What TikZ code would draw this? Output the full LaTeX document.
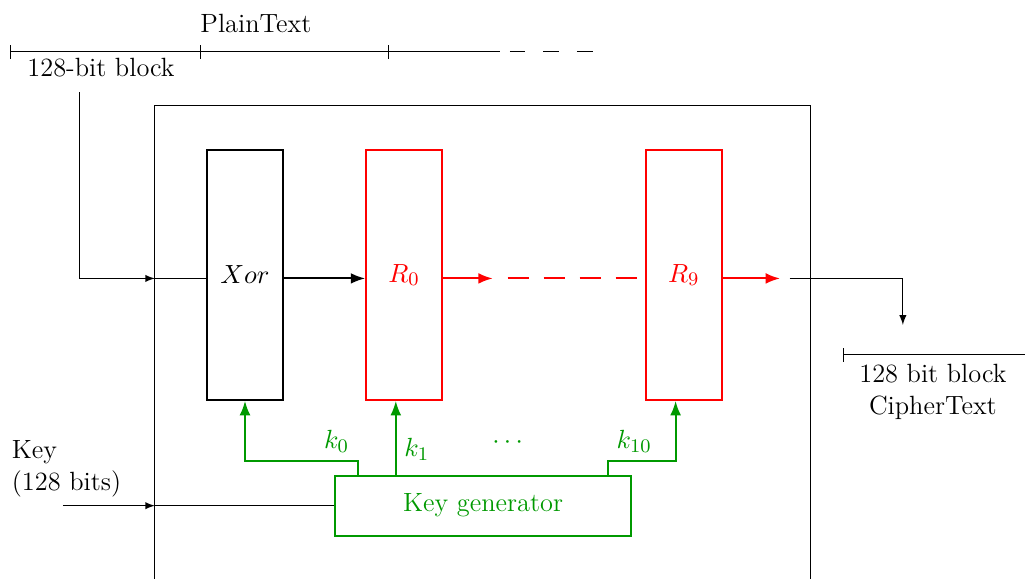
\documentclass[tikz,border=0pt]{standalone}
\usepackage{amsmath}
\usetikzlibrary{arrows,arrows.meta,calc}
\definecolor{kgreen}{RGB}{0,153,0}

\tikzset{
  roundbox/.style={draw,thick,minimum width=1.11cm,minimum height=3.66cm,inner sep=0pt},
  keyline/.style={kgreen,thick},
  tick/.style={{Bar[width=0.2cm]}-},
  bigtip/.style={-{Latex[length=6pt,width=4.5pt]}}
}

\begin{document}
\begin{tikzpicture}[scale=1.0,every node/.style={font=\fontsize{11}{13.6}\selectfont}]
\useasboundingbox (0,0) rectangle (15.02,8.48);
% plaintext split into blocks
\coordinate (T0) at (0.15,7.72);
\coordinate (T1) at (2.93,7.72);
\coordinate (T2) at (5.68,7.72);
\coordinate (T3) at (7.33,7.72);
\draw[tick] (T0) -- (T1);
\draw[tick] (T1) -- (T2);
\draw[tick] (T2) -- (T3);
\draw[dash pattern=on 6.5pt off 7.5pt] (7.47,7.72) -- (8.72,7.72);
\node[anchor=south west,inner sep=0pt] (plain) at (T1) [yshift=0.27cm] {PlainText};
\node (blk) at (1.48,7.49) {128-bit block};
% encryption unit
\draw (2.27,0) -- (2.27,6.94) -- (11.88,6.94) -- (11.88,0);
\node[roundbox] (xor) at (3.59,4.45) {$Xor$};
\node[roundbox,red] (R0) at (5.92,4.45) {$R_0$};
\node[roundbox,red] (R9) at (10.02,4.45) {$R_9$};
\node[draw,keyline,minimum width=4.34cm,minimum height=0.88cm] (keygen) at (7.08,1.07) {Key generator};
% data path
\coordinate (in1) at (2.27,4.40);
\coordinate (r0out) at (7.22,4.40);
\coordinate (r9in) at (7.44,4.40);
\coordinate (r9out) at (11.43,4.40);
\coordinate (out1) at (11.57,4.40);
\coordinate (out2) at (13.23,3.72);
\draw[-latex] (1.16,7.13) |- (in1);
\draw (in1) -- (in1 -| xor.west);
\draw[thick,bigtip] (in1 -| xor.east) -- (in1 -| R0.west);
\draw[red,thick,bigtip] (in1 -| R0.east) -- (r0out);
\draw[red,thick,dash pattern=on 9pt off 6pt] (r9in) -- (r9in -| R9.west);
\draw[red,thick,bigtip] (in1 -| R9.east) -- (r9out);
\draw[-latex] (out1) -| (out2);
% ciphertext block
\coordinate (C0) at (12.35,3.28);
\draw[tick] (C0) -- (15.02,3.28);
\node[align=center] (cipher) at (13.67,2.74) {128 bit block\\ CipherText};
% key input
\coordinate (kin) at (2.27,1.07);
\node[anchor=west,align=left] (key) at (0.05,1.61) {Key\\(128 bits)};
\draw[-latex] (0.92,1.07) -- (kin);
\draw (kin) -- (keygen.west);
% round keys
\coordinate (k0) at (5.24,1.73);
\coordinate (k10) at (8.91,1.73);
\draw[keyline,bigtip] (keygen.north -| k0) -- (k0) -| (xor.south);
\draw[keyline,bigtip] (keygen.north -| 5.80,0) -- (R0.south -| 5.80,0);
\draw[keyline,bigtip] (keygen.north -| k10) -- (k10) -| ($(R9.south)+(-0.12,0)$);
\node[kgreen,above left] at (k0) {$k_0$};
\node[kgreen,right] at (5.80,1.90) {$k_1$};
\node[kgreen,above right] at (k10) {$k_{10}$};
\node[kgreen] at (7.47,1.99) {$\cdots$};
\end{tikzpicture}
\end{document}
